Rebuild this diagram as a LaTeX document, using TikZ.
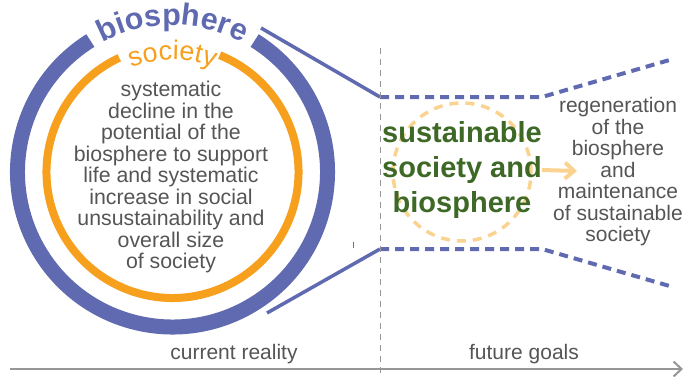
\documentclass[tikz,border=0pt]{standalone}
\usepackage{fontspec}
\setmainfont{Liberation Sans}
\usetikzlibrary{arrows.meta,decorations.text}
\definecolor{bioblue}{RGB}{96,106,176}
\definecolor{socorange}{RGB}{246,160,30}
\definecolor{paleorange}{RGB}{251,211,145}
\definecolor{goalgreen}{RGB}{61,104,38}
\definecolor{txtgrey}{RGB}{85,85,85}
\definecolor{axisgrey}{RGB}{150,150,150}
\tikzset{
  bioring/.style={draw=bioblue,line width=15pt},
  socring/.style={draw=socorange,line width=8pt},
  bioline/.style={draw=bioblue,line width=3.5pt},
  biodash/.style={draw=bioblue,line width=4pt,dash pattern=on 9pt off 6pt},
  greytext/.style={inner sep=0pt,text=txtgrey,align=center,font=\fontsize{21}{21.5}\selectfont},
}
\begin{document}
\begin{tikzpicture}[x=1pt,y=1pt]
	\useasboundingbox (0,0) rectangle (685,376);
	\coordinate (ctr) at (172.5,204);
	\begin{scope}[shift={(ctr)}]
		\draw[bioring] (122:155) arc[start angle=122,end angle=418,radius=155];
		\draw[socring] (115:126) arc[start angle=115,end angle=428,radius=126];
		\path[decorate,decoration={text along path,text align=center,text color=bioblue,
			text={|\bfseries\fontsize{30.5}{30}\selectfont|biosphere}}]
			(125:147) arc[start angle=125,end angle=55,radius=147];
		\path[decorate,decoration={text along path,text align=center,text color=socorange,
			text={|\fontsize{27}{27}\selectfont|society}}]
			(120:112) arc[start angle=120,end angle=60,radius=112];
	\end{scope}
	\node[greytext,font=\fontsize{21.3}{21.5}\selectfont](now) at (171,199) {systematic\\decline in the\\potential of the\\biosphere to support\\life and systematic\\increase in social\\unsustainability and\\overall size\\of society};
	\node[draw=paleorange,circle,minimum size=138pt,line width=3.5pt,dash pattern=on 9pt off 7pt](halo) at (462,204) {};
	\node[inner sep=0pt,align=center,text=goalgreen,font=\bfseries\fontsize{29}{35}\selectfont](sust) at (462,206) {sustainable\\society and\\biosphere};
	\node[greytext](goal) at (618,204) {regeneration\\of the\\biosphere\\and\\maintenance\\of sustainable\\society};
	\node[greytext](cur) at (234,22) {current reality};
	\node[greytext](fut) at (524,22) {future goals};
	\coordinate (nt) at (261,348);
	\coordinate (nb) at (267,63);
	\coordinate (gt) at (380,279);
	\coordinate (gb) at (380,127);
	\coordinate (ft) at (542,279);
	\coordinate (fb) at (542,127);
	\coordinate (et) at (673,317);
	\coordinate (eb) at (673,89);
	\coordinate (vtop) at (380,328);
	\coordinate (vbot) at (380,0);
	\coordinate (axl) at (10,7);
	\coordinate (axr) at (683,7);
	\coordinate (tip) at (577,205);
	\draw[bioline] (nt)--(gt);
	\draw[bioline] (nb)--(gb);
	\draw[biodash] (gt)--(ft)--(et);
	\draw[biodash] (gb)--(fb)--(eb);
	\draw[bioblue,line width=1pt] (353,128)--(353,134);
	\draw[axisgrey,line width=1pt,dash pattern=on 6pt off 5pt] (vtop)--(vbot);
	\draw[-{Straight Barb[length=8pt,width=15pt]},axisgrey,line width=2pt] (axl)--(axr);
	\draw[-{Straight Barb[length=9pt,width=16pt]},paleorange,line width=4pt] (sust.east)--(tip);
\end{tikzpicture}
\end{document}
